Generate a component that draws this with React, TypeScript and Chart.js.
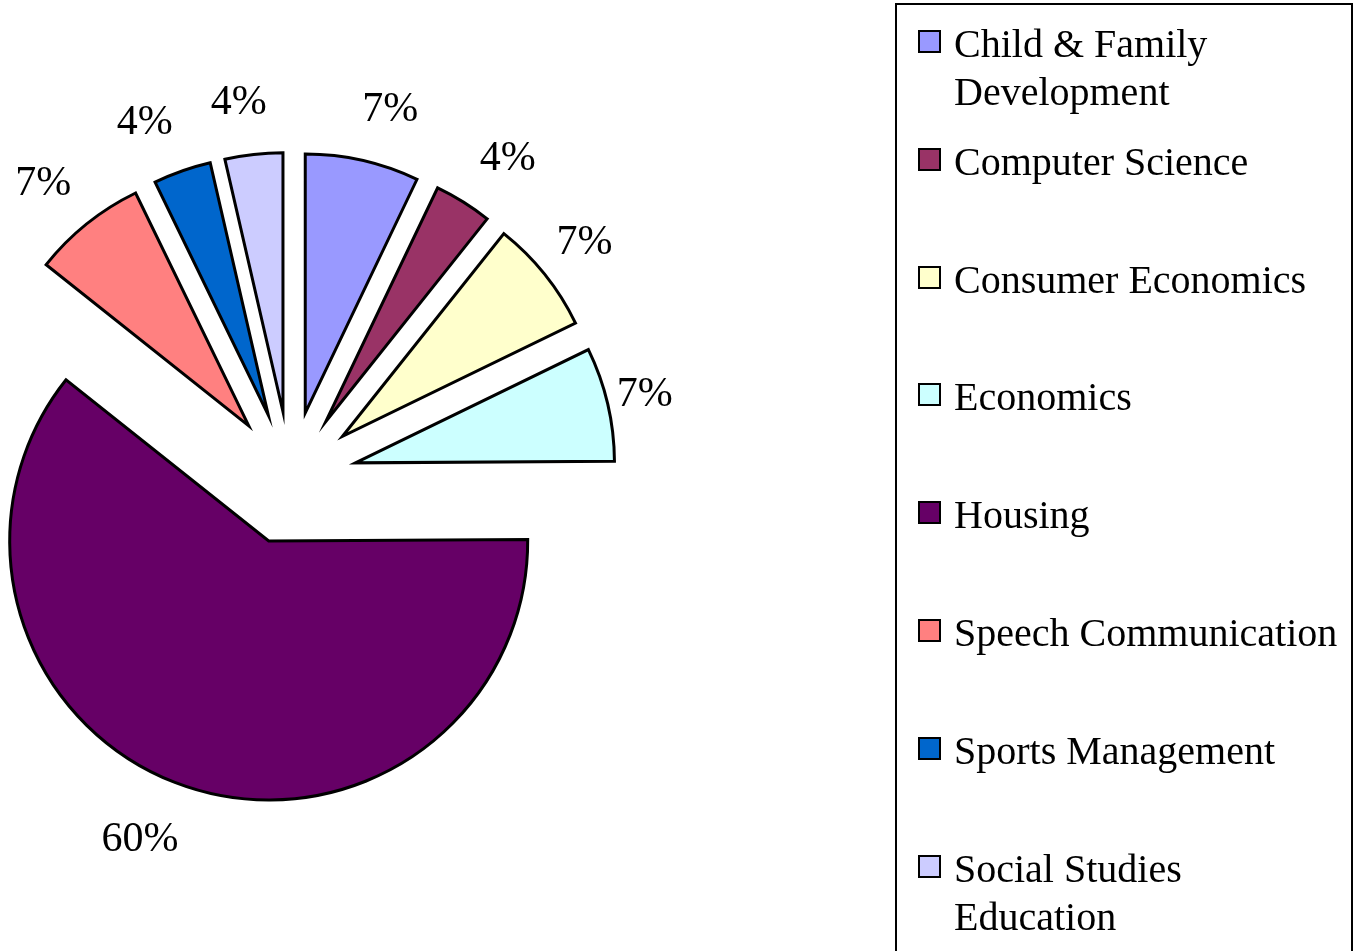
import React, { useEffect, useRef } from "react";
import { Chart, registerables } from "chart.js";

Chart.register(...registerables);

const categories = [
  "Child & Family Development",
  "Computer Science",
  "Consumer Economics",
  "Economics",
  "Housing",
  "Speech Communication",
  "Sports Management",
  "Social Studies Education",
];
const shares = [7.1, 3.6, 7.1, 7.1, 60.8, 7.1, 3.6, 3.6];
const shareLabels = ["7%", "4%", "7%", "7%", "60%", "7%", "4%", "4%"];
const sliceColors = [
  "#9999FF",
  "#993366",
  "#FFFFCC",
  "#CCFFFF",
  "#660066",
  "#FF8080",
  "#0066CC",
  "#CCCCFF",
];

const FONT = '"Liberation Serif", "Times New Roman", Times, serif';
const EXPLODE = 66.7;
const LABEL_DIST = 380;

const explodedPie = {
  id: "explodedPie",
  beforeDatasetsDraw(chart: any) {
    const ctx = chart.ctx as CanvasRenderingContext2D;
    const meta = chart.getDatasetMeta(0);
    const ds = chart.data.datasets[0];
    ctx.save();
    meta.data.forEach((el: any, i: number) => {
      const { x, y, startAngle, endAngle, outerRadius } = el.getProps(
        ["x", "y", "startAngle", "endAngle", "outerRadius"],
        true
      );
      const mid = (startAngle + endAngle) / 2;
      const cx = x + Math.cos(mid) * EXPLODE;
      const cy = y + Math.sin(mid) * EXPLODE;
      ctx.beginPath();
      ctx.moveTo(cx, cy);
      ctx.arc(cx, cy, outerRadius, startAngle, endAngle);
      ctx.closePath();
      ctx.fillStyle = ds.backgroundColor[i];
      ctx.fill();
      ctx.lineWidth = 3;
      ctx.strokeStyle = "#000";
      ctx.lineJoin = "miter";
      ctx.stroke();
    });
    ctx.font = `42px ${FONT}`;
    ctx.fillStyle = "#000";
    ctx.textAlign = "center";
    ctx.textBaseline = "middle";
    meta.data.forEach((el: any, i: number) => {
      const { x, y, startAngle, endAngle } = el.getProps(
        ["x", "y", "startAngle", "endAngle"],
        true
      );
      const mid = (startAngle + endAngle) / 2;
      const dx = Math.cos(mid);
      const dy = Math.sin(mid);
      const text = shareLabels[i];
      const w = ctx.measureText(text).width;
      const shift = (w / 2) * 0.7 * Math.sin((Math.PI * dx) / 0.75);
      const lx = x + dx * LABEL_DIST + shift;
      const ly = y + dy * LABEL_DIST + 3;
      ctx.fillText(text, lx, ly);
    });
    ctx.restore();
    return false;
  },
};

export default function App() {
  const canvasRef = useRef<HTMLCanvasElement | null>(null);

  useEffect(() => {
    if (!canvasRef.current) return;
    const chart = new Chart(canvasRef.current, {
      type: "pie",
      data: {
        labels: categories,
        datasets: [
          {
            data: shares,
            backgroundColor: sliceColors,
            borderColor: "#000",
            borderWidth: 3,
            radius: 259,
          } as any,
        ],
      },
      options: {
        responsive: false,
        animation: false,
        layout: { padding: { left: 0, right: 774, top: 5, bottom: 0 } },
        plugins: {
          legend: { display: false },
          tooltip: { enabled: false },
        },
      },
      plugins: [explodedPie],
    });
    return () => chart.destroy();
  }, []);

  const markerTop0 = 30;
  const step = 117.8;

  return (
    <div
      style={{
        position: "fixed",
        left: 0,
        top: 0,
        width: 1355,
        height: 951,
        overflow: "hidden",
        background: "#fff",
      }}
    >
      <canvas
        ref={canvasRef}
        width={1355}
        height={951}
        style={{ position: "absolute", left: 0, top: 0, width: 1355, height: 951 }}
      />
      <div
        style={{
          position: "absolute",
          left: 895,
          top: 3,
          width: 458,
          height: 1000,
          border: "2px solid #000",
          boxSizing: "border-box",
        }}
      />
      {categories.map((name, i) => {
        const mTop = markerTop0 + step * i;
        return (
          <React.Fragment key={name}>
            <div
              style={{
                position: "absolute",
                left: 918,
                top: mTop,
                width: 23,
                height: 23,
                border: "2px solid #000",
                boxSizing: "border-box",
                background: sliceColors[i],
              }}
            />
            <div
              style={{
                position: "absolute",
                left: 954,
                top: mTop - 10,
                width: 392,
                fontFamily: FONT,
                fontSize: 40,
                lineHeight: "48px",
                color: "#000",
              }}
            >
              {name}
            </div>
          </React.Fragment>
        );
      })}
    </div>
  );
}
